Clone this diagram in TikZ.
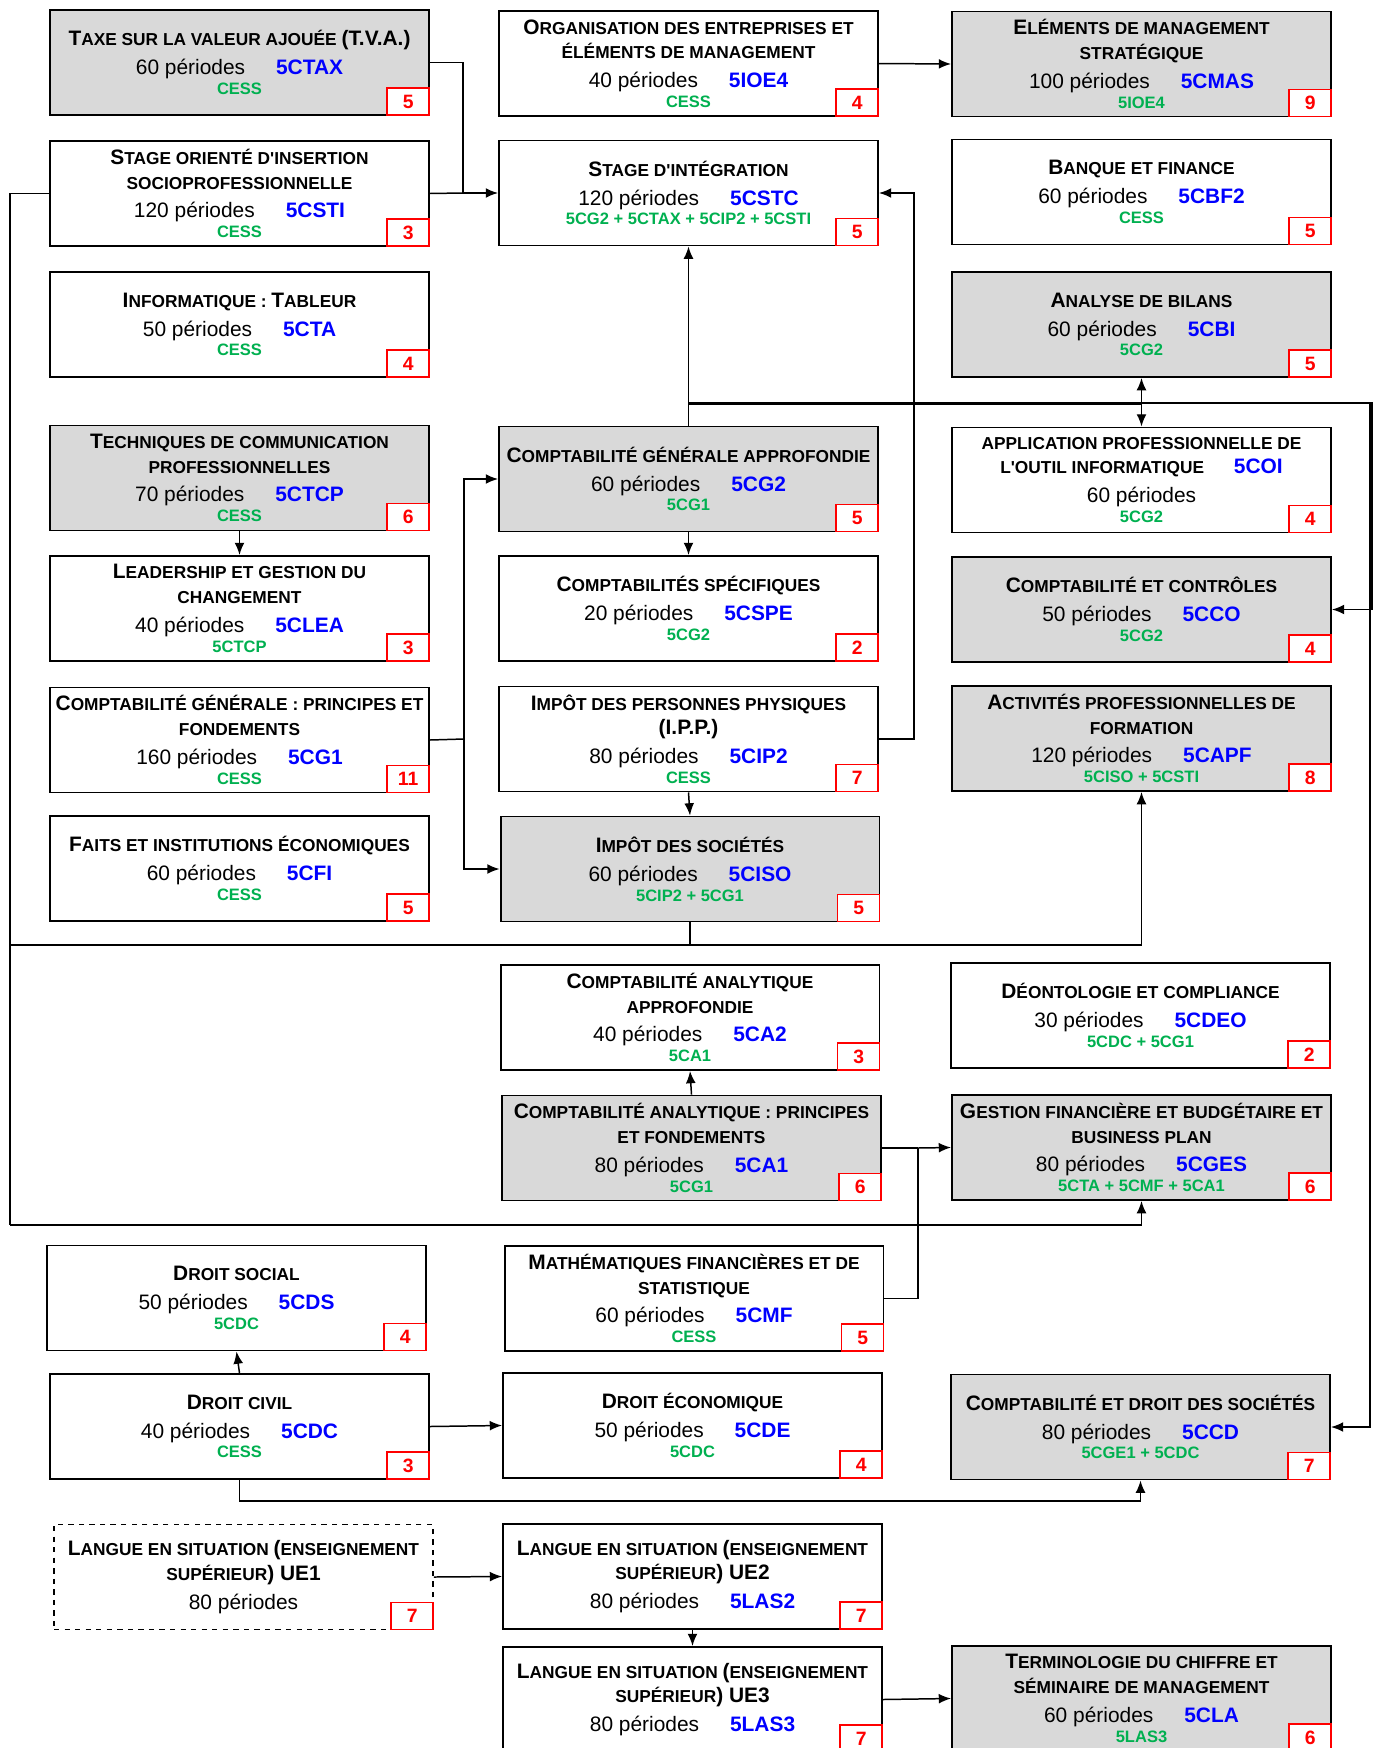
\documentclass[tikz,border=0pt]{standalone}
\usepackage{fontspec}
\setmainfont{Liberation Sans}[Ligatures=TeXOff]
\usetikzlibrary{arrows.meta}
\definecolor{boxgray}{RGB}{217,217,217}
\definecolor{codeblue}{RGB}{0,0,255}
\definecolor{pregreen}{RGB}{0,176,80}
\newcommand\B[1]{{\fontsize{11.9}{14}\selectfont #1}}
\newcommand\per[2]{\\[2.4pt]{\fontsize{11.9}{14}\selectfont\mdseries #1 périodes\hspace{17.6pt}\textcolor{codeblue}{\bfseries #2}}}
\newcommand\pre[1]{\\[-2.7pt]{\fontsize{9.4}{11}\selectfont\color{pregreen}#1}}
\tikzset{
    course/.style={draw, line width=1.1pt, fill=white, minimum width=7.58cm, minimum height=2.1cm,
        align=center, inner sep=0pt, font=\fontsize{9.85}{14}\selectfont\bfseries},
    shaded/.style={course, fill=boxgray},
    badge/.style={draw=red, line width=0.85pt, fill=white, minimum width=0.84cm, minimum height=0.54cm,
        inner sep=0pt, text=red, font=\fontsize{11}{11}\selectfont\bfseries, anchor=south east},
    link/.style={line width=0.85pt},
}
\begin{document}
\begin{tikzpicture}[>={Latex[length=7pt,width=5.6pt]}, x=0.02cm, y=-0.02cm]
\clip (0,0) rectangle (1378,1748);

% colonne de gauche
\node[shaded] (tva) at (239.5,62.5) {\B{T}AXE SUR LA VALEUR AJOUÉE \B{(T.V.A.)}\per{60}{5CTAX}\pre{CESS}};
\node[badge] (tva-n) at (tva.south east) {5};
\node[course] (csti) at (239.5,193.5) {\B{S}TAGE ORIENTÉ D'INSERTION\\SOCIOPROFESSIONNELLE\per{120}{5CSTI}\pre{CESS}};
\node[badge] (csti-n) at (csti.south east) {3};
\node[course] (cta) at (239.5,324.5) {\B{I}NFORMATIQUE : \B{T}ABLEUR\per{50}{5CTA}\pre{CESS}};
\node[badge] (cta-n) at (cta.south east) {4};
\node[shaded] (ctcp) at (239.5,478) {\B{T}ECHNIQUES DE COMMUNICATION\\PROFESSIONNELLES\per{70}{5CTCP}\pre{CESS}};
\node[badge] (ctcp-n) at (ctcp.south east) {6};
\node[course] (clea) at (239.5,608.5) {\B{L}EADERSHIP ET GESTION DU\\CHANGEMENT\per{40}{5CLEA}\pre{5CTCP}};
\node[badge] (clea-n) at (clea.south east) {3};
\node[course] (cg1) at (239.5,740) {\B{C}OMPTABILITÉ GÉNÉRALE : PRINCIPES ET\\FONDEMENTS\per{160}{5CG1}\pre{CESS}};
\node[badge] (cg1-n) at (cg1.south east) {11};
\node[course] (cfi) at (239.5,868.5) {\B{F}AITS ET INSTITUTIONS ÉCONOMIQUES\per{60}{5CFI}\pre{CESS}};
\node[badge] (cfi-n) at (cfi.south east) {5};
\node[course] (cds) at (236.5,1298) {\B{D}ROIT SOCIAL\per{50}{5CDS}\pre{5CDC}};
\node[badge] (cds-n) at (cds.south east) {4};
\node[course] (cdc) at (239.5,1426.5) {\B{D}ROIT CIVIL\per{40}{5CDC}\pre{CESS}};
\node[badge] (cdc-n) at (cdc.south east) {3};
\node[course, dashed] (ue1) at (243.5,1577) {\B{L}ANGUE EN SITUATION \B{(}ENSEIGNEMENT\\SUPÉRIEUR\B{) UE1}\\[2.4pt]{\fontsize{11.9}{14}\selectfont\mdseries 80 périodes}};
\node[badge] (ue1-n) at (ue1.south east) {7};

% colonne du milieu
\node[course] (ioe4) at (688.5,63.5) {\B{O}RGANISATION DES ENTREPRISES ET\\ÉLÉMENTS DE MANAGEMENT\per{40}{5IOE4}\pre{CESS}};
\node[badge] (ioe4-n) at (ioe4.south east) {4};
\node[course] (cstc) at (688.5,193) {\B{S}TAGE D'INTÉGRATION\per{120}{5CSTC}\pre{5CG2 + 5CTAX + 5CIP2 + 5CSTI}};
\node[badge] (cstc-n) at (cstc.south east) {5};
\node[shaded] (cg2) at (688.5,479) {\B{C}OMPTABILITÉ GÉNÉRALE APPROFONDIE\per{60}{5CG2}\pre{5CG1}};
\node[badge] (cg2-n) at (cg2.south east) {5};
\node[course] (cspe) at (688.5,608.5) {\B{C}OMPTABILITÉS SPÉCIFIQUES\per{20}{5CSPE}\pre{5CG2}};
\node[badge] (cspe-n) at (cspe.south east) {2};
\node[course] (cip2) at (688.5,739) {\B{I}MPÔT DES PERSONNES PHYSIQUES\\\B{(I.P.P.)}\per{80}{5CIP2}\pre{CESS}};
\node[badge] (cip2-n) at (cip2.south east) {7};
\node[shaded] (ciso) at (690,869) {\B{I}MPÔT DES SOCIÉTÉS\per{60}{5CISO}\pre{5CIP2 + 5CG1}};
\node[badge] (ciso-n) at (ciso.south east) {5};
\node[course] (ca2) at (690,1017.5) {\B{C}OMPTABILITÉ ANALYTIQUE\\APPROFONDIE\per{40}{5CA2}\pre{5CA1}};
\node[badge] (ca2-n) at (ca2.south east) {3};
\node[shaded] (ca1) at (691.5,1148) {\B{C}OMPTABILITÉ ANALYTIQUE : PRINCIPES\\ET FONDEMENTS\per{80}{5CA1}\pre{5CG1}};
\node[badge] (ca1-n) at (ca1.south east) {6};
\node[course] (cmf) at (694,1298.5) {\B{M}ATHÉMATIQUES FINANCIÈRES ET DE\\STATISTIQUE\per{60}{5CMF}\pre{CESS}};
\node[badge] (cmf-n) at (cmf.south east) {5};
\node[course] (cde) at (692.5,1425.5) {\B{D}ROIT ÉCONOMIQUE\per{50}{5CDE}\pre{5CDC}};
\node[badge] (cde-n) at (cde.south east) {4};
\node[course] (las2) at (692.5,1576.5) {\B{L}ANGUE EN SITUATION \B{(}ENSEIGNEMENT\\SUPÉRIEUR\B{) UE2}\per{80}{5LAS2}};
\node[badge] (las2-n) at (las2.south east) {7};
\node[course] (las3) at (692.5,1699.5) {\B{L}ANGUE EN SITUATION \B{(}ENSEIGNEMENT\\SUPÉRIEUR\B{) UE3}\per{80}{5LAS3}};
\node[badge] (las3-n) at (las3.south east) {7};

% colonne de droite
\node[shaded] (cmas) at (1141.5,64) {\B{E}LÉMENTS DE MANAGEMENT\\STRATÉGIQUE\per{100}{5CMAS}\pre{5IOE4}};
\node[badge] (cmas-n) at (cmas.south east) {9};
\node[course] (cbf2) at (1141.5,192) {\B{B}ANQUE ET FINANCE\per{60}{5CBF2}\pre{CESS}};
\node[badge] (cbf2-n) at (cbf2.south east) {5};
\node[shaded] (cbi) at (1141.5,324.5) {\B{A}NALYSE DE BILANS\per{60}{5CBI}\pre{5CG2}};
\node[badge] (cbi-n) at (cbi.south east) {5};
\node[course] (coi) at (1141.5,480) {APPLICATION PROFESSIONNELLE DE\\L'OUTIL INFORMATIQUE\hspace{17pt}\B{\color{codeblue}5COI}\\[2.4pt]{\fontsize{11.9}{14}\selectfont\mdseries 60 périodes}\pre{5CG2}};
\node[badge] (coi-n) at (coi.south east) {4};
\node[shaded] (cco) at (1141.5,609.5) {\B{C}OMPTABILITÉ ET CONTRÔLES\per{50}{5CCO}\pre{5CG2}};
\node[badge] (cco-n) at (cco.south east) {4};
\node[shaded] (capf) at (1141.5,738.5) {\B{A}CTIVITÉS PROFESSIONNELLES DE\\FORMATION\per{120}{5CAPF}\pre{5CISO + 5CSTI}};
\node[badge] (capf-n) at (capf.south east) {8};
\node[course] (cdeo) at (1140.5,1015.5) {\B{D}ÉONTOLOGIE ET COMPLIANCE\per{30}{5CDEO}\pre{5CDC + 5CG1}};
\node[badge] (cdeo-n) at (cdeo.south east) {2};
\node[shaded] (cges) at (1141.5,1147.5) {\B{G}ESTION FINANCIÈRE ET BUDGÉTAIRE ET\\BUSINESS PLAN\per{80}{5CGES}\pre{5CTA + 5CMF + 5CA1}};
\node[badge] (cges-n) at (cges.south east) {6};
\node[shaded] (ccd) at (1140.5,1427) {\B{C}OMPTABILITÉ ET DROIT DES SOCIÉTÉS\per{80}{5CCD}\pre{5CGE1 + 5CDC}};
\node[badge] (ccd-n) at (ccd.south east) {7};
\node[shaded] (cla) at (1141.5,1698.5) {\B{T}ERMINOLOGIE DU CHIFFRE ET\\SÉMINAIRE DE MANAGEMENT\per{60}{5CLA}\pre{5LAS3}};
\node[badge] (cla-n) at (cla.south east) {6};

% liaisons
\coordinate (jstc) at (463,193);
\coordinate (lft1) at (10,945);
\coordinate (lft2) at (10,1225);
\coordinate (jcg) at (464,739);
\coordinate (jtop) at (688.5,403);
\coordinate (jright) at (1372,403);
\coordinate (jges) at (918,1148);

\draw[link,->] (tva.east) -| (jstc) -- (cstc.west);
\draw[link] (csti.east) -- (jstc);
\draw[link,->] (ioe4.east) -- (cmas.west);
\draw[link] (csti.west) -| (lft2);
\draw[link,->] (lft1) -| (capf.south);
\draw[link,->] (lft2) -| (cges.south);
\draw[link] (ciso.south) -- (ciso.south |- lft1);
\draw[link,->] (ctcp.south) -- (clea.north);
\draw[link] (cg1.east) -- (jcg);
\draw[link,->] (jcg) |- (cg2.west);
\draw[link,->] (jcg) |- (ciso.west);
\draw[link,->] (cg2.south) -- (cspe.north);
\draw[link,->] (cip2.south) -- (ciso.north);
\draw[link,->] (cip2.east) -- ++(35,0) |- (cstc.east);
\draw[link] (cg2.north) -- (jtop);
\draw[link,->] (jtop) -- (cstc.south);
\draw[link,->] (jtop) -| (cbi.south);
\draw[link,->] ([yshift=-0.03cm]jtop) -| (coi.north);
\draw[link,->] (jtop) -- (jright) |- (cco.east);
\draw[link,->] ([xshift=-0.04cm]jright) |- (ccd.east);
\draw[link,->] (ca1.north) -- (ca2.south);
\draw[link] (ca1.east) -- (jges);
\draw[link,->] (jges) -- (cges.west);
\draw[link] (cmf.east) -| (jges);
\draw[link,->] (cdc.north) -- (cds.south);
\draw[link,->] (cdc.east) -- (cde.west);
\draw[link,->] (cdc.south) -- ++(0,21) -| (ccd.south);
\draw[link,->] (ue1.east) -- (las2.west);
\draw[link,->] (las2.south) -- (las3.north);
\draw[link,->] (las3.east) -- (cla.west);
\end{tikzpicture}
\end{document}
